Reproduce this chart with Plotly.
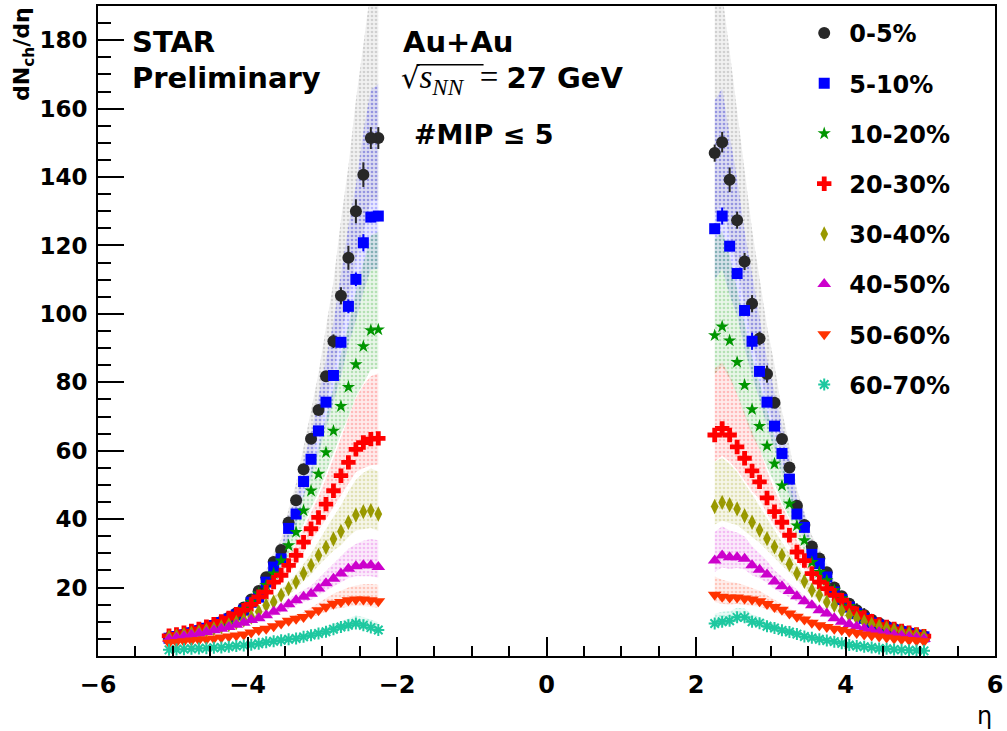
import plotly.graph_objects as go

# |eta| bin centres (same on both sides)
eta_abs = [2.25, 2.35, 2.45, 2.55, 2.65, 2.75, 2.85, 2.95, 3.05, 3.15, 3.25, 3.35, 3.45, 3.55,
           3.65, 3.75, 3.85, 3.95, 4.05, 4.15, 4.25, 4.35, 4.45, 4.55, 4.65, 4.75, 4.85, 4.95, 5.05]

centralities = ["0-5%", "5-10%", "10-20%", "20-30%", "30-40%", "40-50%", "50-60%", "60-70%"]

# dN/deta, ordered by |eta| ascending; L = negative eta side, R = positive eta side
c0_L = [151.4, 151.4, 140.7, 130.0, 116.4, 105.3, 92.0, 81.8, 71.9, 63.5, 54.6, 45.5, 39.0, 31.0,
        27.5, 23.0, 19.0, 16.5, 14.2, 12.5, 11.2, 10.0, 9.0, 8.2, 7.5, 6.9, 6.3, 5.8, 5.3]
c0_R = [147.0, 150.2, 139.2, 127.4, 115.3, 103.0, 92.8, 82.4, 74.0, 63.4, 55.1, 43.9, 38.3, 32.0,
        28.5, 24.5, 20.0, 17.5, 15.3, 13.4, 12.0, 10.6, 9.6, 8.7, 8.0, 7.4, 6.8, 6.3, 5.8]
c1_L = [128.6, 128.3, 120.8, 110.1, 102.2, 91.7, 82.0, 74.2, 65.8, 57.5, 51.0, 41.5, 37.3, 28.4,
        26.0, 21.6, 17.2, 15.7, 13.4, 12.0, 10.8, 9.8, 8.9, 8.1, 7.4, 6.8, 6.2, 5.7, 5.2]
c1_R = [124.9, 128.6, 119.8, 111.8, 101.0, 92.0, 83.2, 74.2, 67.2, 59.2, 51.7, 41.5, 37.6, 29.7,
        27.0, 23.1, 18.7, 16.5, 14.3, 12.4, 11.0, 9.7, 9.0, 8.2, 7.6, 7.1, 6.6, 6.1, 5.6]
c2_L = [95.4, 95.2, 90.5, 85.2, 78.6, 73.0, 65.8, 59.5, 53.2, 48.3, 42.5, 36.2, 32.3, 27.9,
        24.1, 20.7, 18.2, 15.8, 13.8, 12.3, 11.0, 10.0, 9.1, 8.4, 7.7, 7.1, 6.5, 6.0, 5.5]
c2_R = [93.7, 96.3, 92.2, 85.9, 79.2, 72.1, 67.2, 61.4, 56.2, 49.8, 44.5, 38.1, 33.8, 27.4,
        24.5, 22.1, 19.2, 16.8, 14.6, 12.8, 11.4, 10.2, 9.3, 8.5, 7.8, 7.2, 6.7, 6.2, 5.7]
c3_L = [63.6, 63.4, 62.4, 60.4, 56.6, 52.7, 48.3, 44.4, 40.5, 37.2, 33.3, 29.4, 26.5, 23.6,
        21.6, 18.7, 17.3, 15.1, 13.4, 12.2, 11.1, 10.1, 9.3, 8.6, 7.9, 7.3, 6.8, 6.3, 5.9]
c3_R = [64.6, 66.5, 64.6, 61.1, 57.8, 54.1, 50.9, 46.2, 42.2, 39.1, 35.3, 30.4, 27.9, 24.1,
        21.6, 19.7, 17.8, 16.3, 14.0, 12.4, 11.3, 10.2, 9.2, 8.5, 7.9, 7.3, 6.8, 6.3, 5.8]
c4_L = [41.5, 42.5, 42.2, 41.2, 39.1, 36.4, 34.2, 31.8, 29.4, 26.5, 24.1, 21.6, 19.7, 17.8,
        15.8, 14.8, 12.9, 11.4, 10.5, 9.8, 9.1, 8.5, 8.0, 7.5, 7.0, 6.6, 6.2, 5.8, 5.5]
c4_R = [43.7, 44.9, 44.2, 43.0, 41.0, 39.1, 36.8, 34.3, 31.9, 29.4, 26.8, 24.1, 21.8, 19.2,
        17.8, 15.8, 14.8, 13.2, 11.9, 11.0, 10.0, 9.3, 8.7, 8.1, 7.6, 7.1, 6.6, 6.2, 5.8]
c5_L = [26.0, 26.5, 26.5, 26.2, 25.5, 24.1, 22.6, 21.3, 19.7, 18.2, 17.3, 16.3, 15.1, 13.9,
        12.9, 11.9, 11.0, 10.5, 9.7, 9.1, 8.5, 8.0, 7.5, 7.0, 6.6, 6.2, 5.8, 5.4, 5.0]
c5_R = [27.9, 29.4, 28.9, 28.9, 28.4, 26.5, 25.2, 23.8, 21.8, 20.4, 19.0, 17.5, 16.0, 14.8,
        13.4, 12.4, 11.0, 10.0, 9.3, 8.6, 8.0, 7.5, 7.0, 6.6, 6.2, 5.9, 5.6, 5.3, 5.0]
c6_L = [16.0, 16.3, 16.5, 16.5, 16.3, 15.8, 15.3, 14.4, 13.4, 12.4, 11.4, 10.9, 10.3, 9.5,
        8.7, 8.0, 7.6, 6.9, 6.3, 6.0, 5.7, 5.4, 5.1, 4.9, 4.7, 4.5, 4.3, 4.1, 3.9]
c6_R = [17.9, 17.3, 17.1, 17.1, 16.8, 16.5, 16.0, 15.2, 14.3, 13.5, 12.4, 11.5, 10.7, 9.7,
        9.0, 8.5, 8.0, 7.6, 7.1, 6.7, 6.3, 6.0, 5.7, 5.4, 5.1, 4.9, 4.7, 4.5, 4.3]
c7_L = [7.6, 8.3, 9.0, 9.5, 9.0, 8.5, 7.8, 7.1, 6.6, 6.1, 5.6, 5.1, 4.9, 4.6,
        4.3, 4.0, 3.6, 3.3, 3.1, 2.9, 2.7, 2.5, 2.4, 2.3, 2.2, 2.1, 2.0, 1.9, 1.8]
c7_R = [9.5, 10.0, 10.3, 11.3, 11.3, 10.0, 9.6, 8.7, 8.2, 7.5, 7.0, 6.4, 5.7, 5.3,
        4.9, 4.5, 4.2, 3.7, 3.2, 2.9, 2.7, 2.5, 2.2, 2.1, 1.9, 1.8, 1.7, 1.6, 1.5]

# statistical errors (only visible for the most central classes)
err0_L = [3.2, 3.2, 3.6, 3.5, 3.5, 2.5, 2.0, 1.5, 1.2, 1.0, 0.8, 0.7, 0.6, 0.5,
          0.5, 0.4, 0.4, 0.4, 0.4, 0.3, 0.3, 0.3, 0.3, 0.3, 0.2, 0.2, 0.2, 0.2, 0.2]
err0_R = [2.5, 3.0, 3.6, 2.5, 2.5, 2.5, 2.0, 2.5, 1.5, 1.5, 1.0, 0.8, 0.7, 0.6,
          0.5, 0.5, 0.5, 0.5, 0.8, 2.0, 2.0, 0.5, 0.3, 0.3, 0.3, 0.2, 0.2, 0.2, 0.2]
err1_L = [1.5, 1.5, 2.5, 2.0, 2.0, 1.5, 1.2, 1.0, 0.8, 0.7, 0.6, 0.5, 0.4, 0.4,
          0.3, 0.3, 0.3, 0.3, 0.2, 0.2, 0.2, 0.2, 0.2, 0.2, 0.2, 0.2, 0.2, 0.2, 0.2]
err1_R = [1.5, 2.5, 1.5, 1.5, 1.5, 2.5, 1.2, 1.0, 0.8, 0.7, 0.6, 0.5, 0.4, 0.4,
          0.3, 0.3, 0.3, 0.3, 0.2, 0.2, 0.2, 0.2, 0.2, 0.2, 0.2, 0.2, 0.2, 0.2, 0.2]

# relative systematic uncertainty (upper / lower), per |eta| bin
sys_up = [0.30, 0.29, 0.27, 0.25, 0.23, 0.21, 0.19, 0.17, 0.15, 0.13, 0.12, 0.11, 0.10, 0.10,
          0.10, 0.10, 0.10, 0.10, 0.10, 0.10, 0.10, 0.10, 0.10, 0.10, 0.10, 0.10, 0.10, 0.10, 0.10]
sys_dn = [0.12, 0.12, 0.12, 0.11, 0.11, 0.11, 0.10, 0.10, 0.10, 0.10, 0.09, 0.09, 0.09, 0.09,
          0.09, 0.09, 0.09, 0.09, 0.09, 0.09, 0.09, 0.09, 0.09, 0.09, 0.09, 0.09, 0.09, 0.09, 0.09]

y_tickvals = [20, 40, 60, 80, 100, 120, 140, 160, 180]
x_tickvals = [-6, -4, -2, 0, 2, 4, 6]

series_L = [c0_L, c1_L, c2_L, c3_L, c4_L, c5_L, c6_L, c7_L]
series_R = [c0_R, c1_R, c2_R, c3_R, c4_R, c5_R, c6_R, c7_R]
errs_L = [err0_L, err1_L] + [None] * 6
errs_R = [err0_R, err1_R] + [None] * 6

colors = [(40, 40, 40), (0, 0, 255), (0, 150, 0), (255, 0, 0), (153, 153, 0), (204, 0, 204),
          (255, 51, 0), (30, 200, 160)]
band_colors = [(120, 120, 120), (40, 40, 255), (40, 170, 40), (255, 60, 60), (170, 170, 40),
               (220, 60, 220), (255, 90, 60), (60, 210, 170)]
symbols = ["circle", "square", "star", "cross", "diamond-tall", "triangle-up", "triangle-down",
           "asterisk-open"]
sizes = [12, 11, 10, 12, 11, 12, 12, 10]

FONT = "DejaVu Sans"


def rgba(c, a):
    return "rgba(%d,%d,%d,%.2f)" % (c[0], c[1], c[2], a)


fig = go.Figure()

eta_L = [-e for e in eta_abs]
eta_R = list(eta_abs)

# systematic bands
for k in range(8):
    xs, ys = [], []
    for etas, vals in ((eta_L, series_L[k]), (eta_R, series_R[k])):
        up = [v * (1 + f) for v, f in zip(vals, sys_up)]
        dn = [v * (1 - f) for v, f in zip(vals, sys_dn)]
        xs += etas + etas[::-1] + [None]
        ys += up + dn[::-1] + [None]
    bc = band_colors[k]
    fig.add_trace(go.Scatter(
        x=xs, y=ys, mode="lines", fill="toself", connectgaps=False,
        line=dict(width=0), fillcolor=rgba(bc, 0.14),
        fillpattern=dict(shape=".", fgcolor=rgba(bc, 0.55), bgcolor=rgba(bc, 0.10),
                         size=4, solidity=0.35),
        showlegend=False, hoverinfo="skip"))

# data points
for k in range(8):
    xs = eta_L + eta_R
    ys = series_L[k] + series_R[k]
    c = colors[k]
    err = None
    if errs_L[k] is not None:
        err = dict(type="data", array=errs_L[k] + errs_R[k], visible=True,
                   color=rgba(c, 1), thickness=2, width=0)
    if symbols[k] == "asterisk-open":
        marker = dict(symbol=symbols[k], size=sizes[k], color=rgba(c, 1),
                      line=dict(color=rgba(c, 1), width=2))
    else:
        marker = dict(symbol=symbols[k], size=sizes[k], color=rgba(c, 1), line=dict(width=0))
    fig.add_trace(go.Scatter(
        x=xs, y=ys, mode="markers", marker=marker, error_y=err,
        name=centralities[k], legendgroup=centralities[k], showlegend=True))

# plot-area pixel geometry
L, R, T, B = 98, 996, 4, 656
W, H = 1007, 731


def px(x):
    return (x - L) / (R - L)


def py(y):
    return 1 - (y - T) / (B - T)


ann = []
ann.append(dict(text="<b>STAR</b>", x=px(130), y=py(40), xanchor="left", yanchor="middle",
                font=dict(family=FONT, size=29, color="black")))
ann.append(dict(text="<b>Preliminary</b>", x=px(130), y=py(76), xanchor="left", yanchor="middle",
                font=dict(family=FONT, size=29, color="black")))
ann.append(dict(text="<b>Au+Au</b>", x=px(401), y=py(40), xanchor="left", yanchor="middle",
                font=dict(family=FONT, size=29, color="black")))
ann.append(dict(text='<span style="font-family:DejaVu Serif">√</span>'
                     '<span style="font-family:Liberation Serif;font-size:33px">'
                     '<i>s</i><sub><i>NN</i></sub>\u00a0\u00a0=\u00a0</span>'
                     '<b>27 GeV</b>',
                x=px(399), y=py(78), xanchor="left", yanchor="middle",
                font=dict(family=FONT, size=29, color="black")))
ann.append(dict(text="<b>#MIP ≤ 5</b>", x=px(412), y=py(133), xanchor="left", yanchor="middle",
                font=dict(family=FONT, size=27, color="black")))
ann.append(dict(text="η", x=px(985), y=py(716), xanchor="center", yanchor="middle",
                font=dict(family=FONT, size=24, color="black")))
ann.append(dict(text="<b>dN<sub>ch</sub>/dη</b>", x=px(24), y=py(52), xanchor="center",
                yanchor="middle", textangle=-90,
                font=dict(family=FONT, size=22, color="black")))
for a in ann:
    a.update(xref="paper", yref="paper", showarrow=False)

fig.update_layout(
    width=W, height=H,
    margin=dict(l=L, r=W - R, t=T, b=H - B),
    paper_bgcolor="white", plot_bgcolor="white",
    annotations=ann,
    shapes=[dict(type="line", xref="paper", yref="paper", x0=px(417), x1=px(484),
                 y0=py(63), y1=py(63), line=dict(color="black", width=1.5))],
    legend=dict(x=px(800), y=py(9), xanchor="left", yanchor="top",
                font=dict(family=FONT, size=24, color="black", weight="bold"),
                traceorder="grouped", tracegroupgap=16, bgcolor="rgba(0,0,0,0)",
                itemsizing="trace", itemwidth=40),
    xaxis=dict(range=[-6, 6], tickmode="array", tickvals=x_tickvals,
               ticks="inside", ticklen=19, tickwidth=2, tickcolor="black",
               showline=True, linecolor="black", linewidth=2, mirror=True,
               showgrid=False, zeroline=False,
               tickfont=dict(family=FONT, size=24, color="black", weight="bold"),
               ticklabelstandoff=6,
               minor=dict(ticks="inside", tickmode="linear", tick0=0, dtick=0.5, ticklen=10,
                          tickwidth=2, tickcolor="black", showgrid=False)),
    yaxis=dict(range=[0, 190], tickmode="array", tickvals=y_tickvals,
               ticks="inside", ticklen=26, tickwidth=2, tickcolor="black",
               showline=True, linecolor="black", linewidth=2, mirror=True,
               showgrid=False, zeroline=False,
               tickfont=dict(family=FONT, size=23, color="black", weight="bold"),
               ticklabelstandoff=4,
               minor=dict(ticks="inside", tickmode="linear", tick0=0, dtick=5, ticklen=13,
                          tickwidth=2, tickcolor="black", showgrid=False)),
)

fig.write_html("out.html", config={"displayModeBar": False},
               post_script="document.body.style.margin='0';document.body.style.overflow='hidden';")
